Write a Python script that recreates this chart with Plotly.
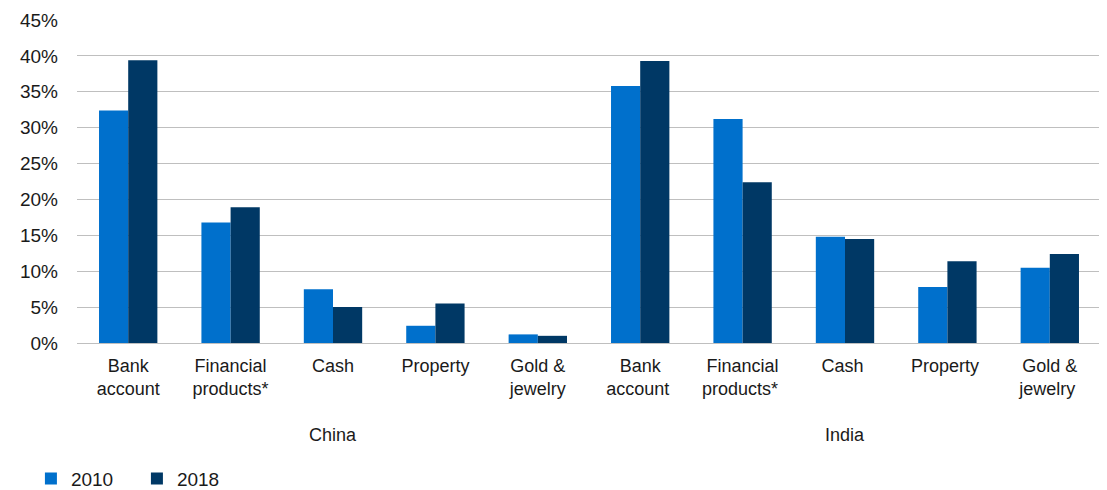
import plotly.graph_objects as go

# --- Daten ---
countries = ["China", "India"]
assets = ["Bank<br>account", "Financial<br>products*", "Cash", "Property", "Gold &<br>jewelry"]
share_2010 = [32.4, 16.8, 7.5, 2.4, 1.2, 35.8, 31.2, 14.8, 7.8, 10.5]
share_2018 = [39.4, 18.9, 5.0, 5.5, 1.0, 39.3, 22.4, 14.5, 11.4, 12.4]
y_ticks = [0, 5, 10, 15, 20, 25, 30, 35, 40, 45]

C_2010 = "#0070CC"
C_2018 = "#003865"
TXT = "#1a1a1a"

# eindeutige Kategorien je Land (Leerzeichen-Suffix unterscheidet India von China)
cats = [a + " " * i for i in range(len(countries)) for a in assets]

fig = go.Figure()
fig.add_trace(go.Bar(name="2010", x=cats, y=share_2010,
                     marker=dict(color=C_2010, line=dict(width=0))))
fig.add_trace(go.Bar(name="2018", x=cats, y=share_2018,
                     marker=dict(color=C_2018, line=dict(width=0))))

# Ländernamen unter der jeweils mittleren Kategorie
for i, c in enumerate(countries):
    mid = cats[i * len(assets) + len(assets) // 2]
    fig.add_annotation(x=mid, xref="x", y=-0.285, yref="paper", text=c,
                       showarrow=False, xanchor="center", yanchor="middle",
                       font=dict(size=18, color=TXT))

# Seite hat 8px Body-Rand -> Figur etwas kleiner
fig.update_layout(
    width=1099, height=482,
    margin=dict(l=69, r=6, t=12, b=147, autoexpand=False),
    plot_bgcolor="white", paper_bgcolor="white",
    font=dict(family="Liberation Sans, Arial, sans-serif", size=18, color=TXT),
    barmode="group", bargap=0.43, bargroupgap=0,
    legend=dict(orientation="h", x=-0.045, y=-0.42, xanchor="left", yanchor="middle",
                font=dict(size=19), itemwidth=30, entrywidth=61, traceorder="normal"),
    showlegend=True,
)
fig.update_yaxes(range=[0, 45], tickvals=y_ticks, ticktext=[f"{v}%" for v in y_ticks],
                 showgrid=True, gridcolor="#BFBFBF", gridwidth=1,
                 zeroline=True, zerolinecolor="#BFBFBF", zerolinewidth=1,
                 showline=False, ticks="", automargin=False, tickfont=dict(size=19),
                 ticklabelstandoff=18)
fig.update_xaxes(type="category", showgrid=False, showline=False, ticks="",
                 automargin=False, ticklabelstandoff=10)

fig.write_html("out.html")
